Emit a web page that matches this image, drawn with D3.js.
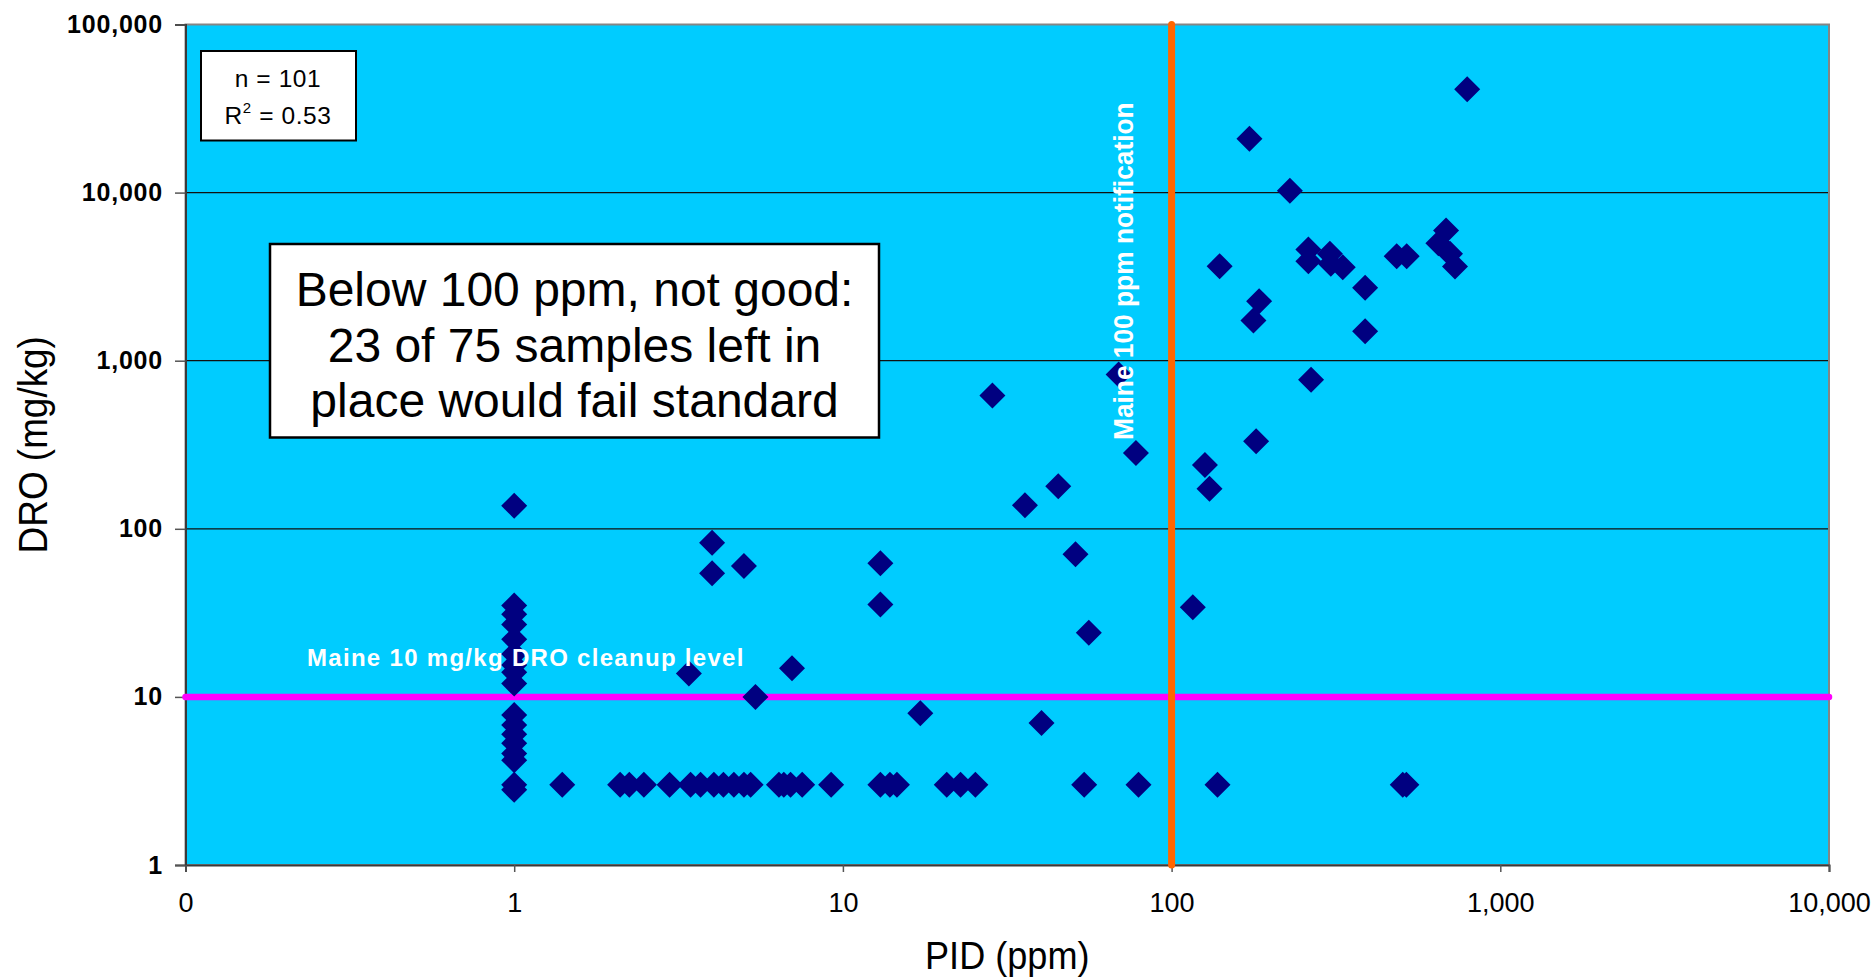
<!DOCTYPE html>
<html>
<head>
<meta charset="utf-8">
<script src="https://cdn.jsdelivr.net/npm/d3@7"></script>
<style>
  html, body { margin: 0; padding: 0; background: #ffffff; }
  svg { display: block; font-family: "Liberation Sans", Arial, sans-serif; }
</style>
</head>
<body>
<svg id="chart" width="1872" height="979"></svg>
<script>
// ---------------- data ----------------
const pidValues = [
  // PID = 1 column
  1,1,1,1,1,1,1,1,1,1,1,1,1,1,1,1,1,
  // DRO = 3 (non-detect) row
  1.4,2.1,2.24,2.48,2.97,3.44,3.69,4.05,4.33,4.66,5.0,5.24,6.39,6.61,6.93,7.52,9.21,
  13.0,13.9,14.6,20.7,22.8,25.3,54.2,79.3,137.9,505,518,
  // middle points
  4.0,4.0,5.0,13.0,13.0,35.8,45.2,28.5,51,56,77.9,3.4,7.0,5.42,17.2,40.2,69,
  // upper right
  793,172.5,229,140,260.7,260.7,303,305,331.7,484,519,684,648,703,728,388,388,
  184.6,177.4,265.6,180.8,126.3,130.4,116
];
const droValues = [
  137,35,31,27,22,18,15.5,14,12,7.8,6.8,6.0,5.3,4.6,4.2,3.0,2.8,
  3,3,3,3,3,3,3,3,3,3,3,3,3,3,3,3,3,
  3,3,3,3,3,3,3,3,3,3,3,
  82.6,54.4,60,62.4,35.4,138,179,620,70.5,24.1,282,13.8,14.8,10,8.0,7.0,828,
  41200,20900,10250,3650,4590,3908,4324,3770,3600,4187,4187,5950,5000,4324,3634,2715,1497,
  2260,1735,770,332,240,173,34.2
];
const xTickValues = [0.1, 1, 10, 100, 1000, 10000];
const xTickLabels = ["0", "1", "10", "100", "1,000", "10,000"];
const yTickValues = [1, 10, 100, 1000, 10000, 100000];
const yTickLabels = ["1", "10", "100", "1,000", "10,000", "100,000"];
const cleanupLevel = 10;        // DRO mg/kg
const notificationLevel = 100;  // PID ppm
const statsLines = ["n = 101", "0.53"];
const noteLines = ["Below 100 ppm, not good:", "23 of 75 samples left in", "place would fail standard"];
const xTitle = "PID (ppm)";
const yTitle = "DRO (mg/kg)";
const cleanupLabel = "Maine 10 mg/kg DRO cleanup level";
const notifyLabel = "Maine 100 ppm notification";

// ---------------- layout ----------------
const svg = d3.select("#chart");
const plot = { left: 185.5, right: 1829, top: 24.5, bottom: 865 };

const x = d3.scaleLog().domain([0.1, 10000]).range([plot.left, plot.right]);
const y = d3.scaleLog().domain([1, 100000]).range([plot.bottom, plot.top]);

// plot background
svg.append("rect")
  .attr("x", plot.left).attr("y", plot.top)
  .attr("width", plot.right - plot.left).attr("height", plot.bottom - plot.top)
  .attr("fill", "#00CCFF");

// horizontal gridlines
svg.append("g").selectAll("line").data(yTickValues.slice(1, -1)).join("line")
  .attr("x1", plot.left).attr("x2", plot.right)
  .attr("y1", d => y(d)).attr("y2", d => y(d))
  .attr("stroke", "#111").attr("stroke-width", 1.3);

// border
svg.append("rect")
  .attr("x", plot.left).attr("y", plot.top)
  .attr("width", plot.right - plot.left).attr("height", plot.bottom - plot.top)
  .attr("fill", "none").attr("stroke", "#858585").attr("stroke-width", 2);

// axes
const yAxis = d3.axisLeft(y).tickValues(yTickValues)
  .tickFormat((d, i) => yTickLabels[i]).tickSize(10.5).tickPadding(12);
const gy = svg.append("g").attr("transform", `translate(${plot.left},0)`).call(yAxis);
gy.select(".domain").attr("stroke", "#3a3a3a").attr("stroke-width", 2);
gy.selectAll(".tick line").attr("stroke", "#555").attr("stroke-width", 1.5);
gy.selectAll(".tick text")
  .attr("fill", "#000").attr("font-size", 25).attr("font-weight", "bold")
  .attr("letter-spacing", "0.8px")
  .attr("font-family", "'Liberation Sans', Arial, sans-serif");

const xAxis = d3.axisBottom(x).tickValues(xTickValues)
  .tickFormat((d, i) => xTickLabels[i]).tickSize(7).tickPadding(21);
const gx = svg.append("g").attr("transform", `translate(0,${plot.bottom})`).call(xAxis);
gx.select(".domain").attr("stroke", "#3a3a3a").attr("stroke-width", 2);
gx.selectAll(".tick line").attr("stroke", "#555").attr("stroke-width", 1.5);
gx.selectAll(".tick text")
  .attr("fill", "#000").attr("font-size", 27)
  .attr("font-family", "'Liberation Sans', Arial, sans-serif");

// reference lines
svg.append("line")
  .attr("x1", x(0.1)).attr("x2", x(10000))
  .attr("y1", y(cleanupLevel)).attr("y2", y(cleanupLevel))
  .attr("stroke", "#FF00FF").attr("stroke-width", 6.5).attr("stroke-linecap", "round");
svg.append("line")
  .attr("x1", x(notificationLevel)).attr("x2", x(notificationLevel))
  .attr("y1", y(100000)).attr("y2", y(1))
  .attr("stroke", "#FF6600").attr("stroke-width", 7).attr("stroke-linecap", "round");

// points
const diamond = "M0,-13L13,0L0,13L-13,0Z";
svg.append("g").selectAll("path").data(d3.range(pidValues.length)).join("path")
  .attr("d", diamond)
  .attr("transform", i => `translate(${x(pidValues[i])},${y(droValues[i])})`)
  .attr("fill", "#000080");

// line labels
svg.append("text")
  .attr("x", 307).attr("y", y(cleanupLevel) - 31)
  .attr("fill", "#fff").attr("font-size", 24).attr("font-weight", "bold")
  .attr("letter-spacing", "1.3px")
  .text(cleanupLabel);

svg.append("g")
  .attr("transform", `translate(${x(notificationLevel) - 39},440) rotate(-90) scale(0.94,1)`)
  .append("text")
  .attr("fill", "#fff").attr("font-size", 28).attr("font-weight", "bold")
  .text(notifyLabel);

// stats box
svg.append("rect")
  .attr("x", 201).attr("y", 51).attr("width", 155).attr("height", 89.5)
  .attr("fill", "#fff").attr("stroke", "#000").attr("stroke-width", 2);
svg.append("text")
  .attr("x", 278).attr("y", 87).attr("text-anchor", "middle")
  .attr("font-size", 24.5).attr("letter-spacing", "0.6px").attr("fill", "#000")
  .text(statsLines[0]);
const r2 = svg.append("text")
  .attr("x", 278).attr("y", 124).attr("text-anchor", "middle")
  .attr("font-size", 24.5).attr("letter-spacing", "0.6px").attr("fill", "#000");
r2.append("tspan").text("R");
r2.append("tspan").attr("font-size", 15).attr("dy", -11).text("2");
r2.append("tspan").attr("dy", 11).text(" = " + statsLines[1]);

// note box
svg.append("rect")
  .attr("x", 270).attr("y", 244).attr("width", 609).attr("height", 193.5)
  .attr("fill", "#fff").attr("stroke", "#000").attr("stroke-width", 2.5);
const noteBaselines = [306, 361.5, 417];
noteLines.forEach((t, i) => {
  svg.append("text")
    .attr("x", 574.5).attr("y", noteBaselines[i])
    .attr("text-anchor", "middle").attr("font-size", 48).attr("fill", "#000")
    .text(t);
});

// axis titles
svg.append("g")
  .attr("transform", `translate(${(plot.left + plot.right) / 2},969) scale(0.95,1)`)
  .append("text").attr("text-anchor", "middle").attr("font-size", 38).attr("fill", "#000")
  .text(xTitle);
svg.append("g")
  .attr("transform", `translate(46.5,${(plot.top + plot.bottom) / 2}) rotate(-90) scale(0.9,1)`)
  .append("text").attr("text-anchor", "middle").attr("font-size", 41).attr("fill", "#000")
  .text(yTitle);
</script>
</body>
</html>
